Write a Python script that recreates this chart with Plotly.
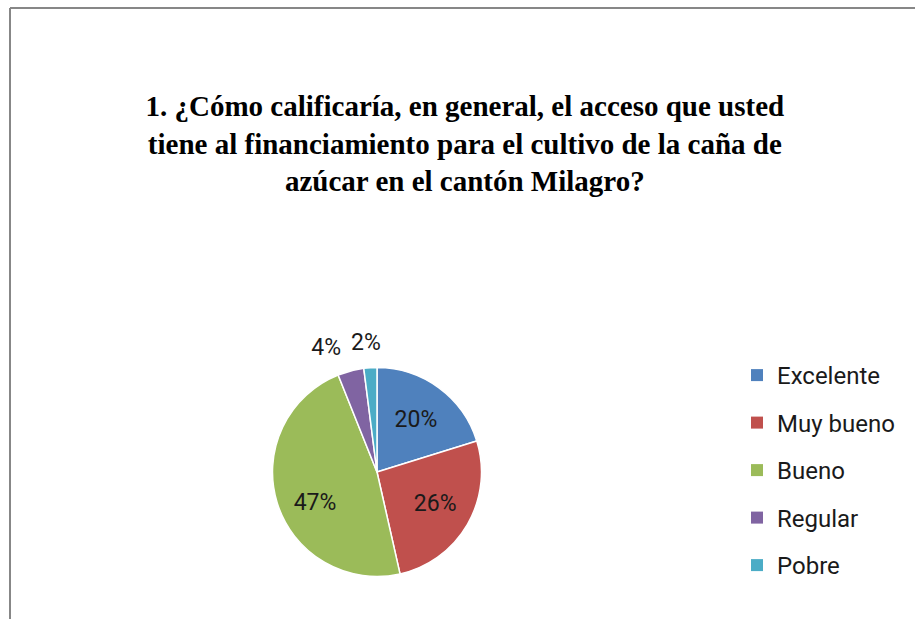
import plotly.graph_objects as go

categories = ["Excelente", "Muy bueno", "Bueno", "Regular", "Pobre"]
percentages = [20, 26, 47, 4, 2]
colors = ["#4F81BD", "#C0504D", "#9BBB59", "#8064A2", "#4BACC6"]
label_positions = ["inside", "inside", "inside", "outside", "outside"]
title_text = ("<b>1. ¿Cómo calificaría, en general, el acceso que usted<br>"
              "tiene al financiamiento para el cultivo de la caña de<br>"
              "azúcar en el cantón Milagro?</b>")

W, H = 915, 619
LABEL_FONT = "Roboto, Carlito, Calibri, sans-serif"
CX, CY, R = 377, 472, 104.5       # pie centre / radius in pixels
R_OUT = 116                       # radius used to place outside labels
# (dx, dy) pixel nudge of the transparent helper pie that places each label
LABEL_NUDGE = {0: (0, 0), 1: (6, 1), 2: (-12, 15), 3: (0, 0), 4: (18, 0)}


def domain_for(radius, dx=0, dy=0):
    return dict(x=[(CX + dx - radius) / W, (CX + dx + radius) / W],
                y=[(H - CY - dy - radius) / H, (H - CY - dy + radius) / H])


fig = go.Figure()
fig.add_trace(go.Pie(
    labels=categories,
    values=percentages,
    sort=False,
    direction="clockwise",
    rotation=0,
    marker=dict(colors=colors, line=dict(color="white", width=1.5)),
    textinfo="none",
    hoverinfo="label+percent",
    showlegend=False,
    domain=domain_for(R),
))

# one transparent helper pie per label (keeps labels un-scooted and lets them be nudged)
for i, pos in enumerate(label_positions):
    dx, dy = LABEL_NUDGE.get(i, (0, 0))
    fig.add_trace(go.Pie(
        labels=categories,
        values=percentages,
        sort=False,
        direction="clockwise",
        rotation=0,
        marker=dict(colors=["rgba(0,0,0,0)"] * len(categories), line=dict(width=0)),
        texttemplate="%{value}%",
        textposition=[pos if j == i else "none" for j in range(len(categories))],
        textfont=dict(family=LABEL_FONT, size=23, color="#1a1a1a"),
        insidetextorientation="horizontal",
        hoverinfo="skip",
        showlegend=False,
        domain=domain_for(R_OUT if pos == "outside" else R, dx, dy),
    ))

for name, color in zip(categories, colors):
    fig.add_trace(go.Scatter(
        x=[None], y=[None], mode="markers", name=name,
        legendgroup=name,
        marker=dict(symbol="square", size=12, color=color),
    ))

fig.update_layout(
    width=W, height=H,
    margin=dict(l=0, r=0, t=0, b=0),
    paper_bgcolor="white",
    plot_bgcolor="white",
    xaxis=dict(visible=False),
    yaxis=dict(visible=False),
    title=dict(
        text=title_text,
        x=0.508, xanchor="center",
        y=1 - 116 / H, yanchor="top",
        font=dict(family="Liberation Serif, Times New Roman, serif", size=29, color="black"),
    ),
    legend=dict(
        x=737 / W, xanchor="left",
        y=1 - 353 / H, yanchor="top",
        font=dict(family=LABEL_FONT, size=24, color="#1a1a1a"),
        tracegroupgap=13.3,
        bgcolor="rgba(0,0,0,0)",
    ),
    shapes=[
        dict(type="line", xref="paper", yref="paper",
             x0=10 / W, x1=1.01, y0=1 - 8 / H, y1=1 - 8 / H,
             line=dict(color="#878787", width=2)),
        dict(type="line", xref="paper", yref="paper",
             x0=10 / W, x1=10 / W, y0=1 - 8 / H, y1=-0.01,
             line=dict(color="#878787", width=2)),
    ],
)

fig.write_html("out.html", config={"displayModeBar": False},
               post_script="document.body.style.margin='0';")
